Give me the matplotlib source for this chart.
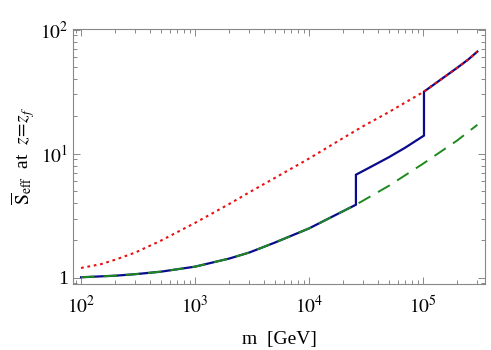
import matplotlib
matplotlib.use("Agg")
import matplotlib.pyplot as plt
from matplotlib.ticker import LogLocator, FixedLocator, NullFormatter

plt.rcParams["font.family"] = ["Liberation Serif", "DejaVu Serif"]
plt.rcParams["mathtext.fontset"] = "stix"

# dashed green curve
m_green = [100, 200, 300, 500, 1000, 2000, 3000, 5000, 1e4, 2e4, 2.58e4, 5e4, 1e5, 2e5, 3e5]
s_green = [1.01, 1.04, 1.07, 1.12, 1.23, 1.43, 1.6, 1.92, 2.5, 3.45, 3.88, 5.5, 8.3, 12.8, 17.1]

# dotted red curve
m_red = [100, 150, 200, 300, 500, 1000, 2000, 3000, 5000, 1e4, 2e4, 3e4, 5e4,
         1e5, 1.5e5, 2e5, 2.5e5, 3e5]
s_red = [1.2, 1.29, 1.4, 1.6, 1.99, 2.77, 3.94, 4.89, 6.37, 9.14, 13.4, 16.7, 21.6,
         31.3, 40.8, 49.3, 57.5, 66.5]

# solid blue curve (with the two jumps)
m_blue = [100, 200, 300, 500, 1000, 2000, 3000, 5000, 1e4, 2e4, 2.58e4,
          2.58e4, 3.5e4, 5e4, 7e4, 1.02e5, 1.02e5, 1.5e5, 2e5, 2.5e5, 3e5]
s_blue = [1.01, 1.04, 1.07, 1.12, 1.23, 1.43, 1.6, 1.92, 2.5, 3.45, 3.88,
          6.77, 7.85, 9.35, 11.2, 14.0, 31.6, 40.8, 49.3, 57.5, 66.5]

x_ticks = [1e2, 1e3, 1e4, 1e5]
x_labels = ["$10^2$", "$10^3$", "$10^4$", "$10^5$"]
y_ticks = [1, 10, 100]
y_labels = ["1", "$10^1$", "$10^2$"]

fig = plt.figure(figsize=(4.91, 3.5), dpi=100)
ax = fig.add_axes([0.1487, 0.189, 0.8391, 0.728])

ax.plot(m_blue, s_blue, color="#0a0a8c", lw=1.6, solid_joinstyle="miter")
ax.plot(m_green, s_green, color="#1e8a1e", lw=1.4, dashes=(7, 4.5))
ax.plot(m_red, s_red, color="#e81010", lw=1.5, dashes=(1.3, 1.8))

ax.set_xscale("log")
ax.set_yscale("log")
ax.set_xlim(85, 3.5e5)
ax.set_ylim(0.894, 101)

ax.xaxis.set_major_locator(FixedLocator(x_ticks))
ax.set_xticklabels(x_labels)
ax.yaxis.set_major_locator(FixedLocator(y_ticks))
ax.set_yticklabels(y_labels)
ax.xaxis.set_minor_locator(LogLocator(base=10, subs=range(2, 10)))
ax.yaxis.set_minor_locator(LogLocator(base=10, subs=range(2, 10)))
ax.xaxis.set_minor_formatter(NullFormatter())
ax.yaxis.set_minor_formatter(NullFormatter())

for side in ax.spines.values():
    side.set_color("#888888")
    side.set_linewidth(0.8)
ax.tick_params(which="both", direction="in", top=True, right=True, color="#888888",
               labelsize=14, width=0.7)
ax.tick_params(which="major", length=5)
ax.tick_params(which="minor", length=2.8)
ax.tick_params(axis="x", pad=8)

ax.set_xlabel("m  [GeV]", fontsize=14, labelpad=10)
ax.set_ylabel(r"$\overline{\mathrm{S}}_{\mathrm{eff}}$  at  $z\!=\!z_f$", fontsize=14, labelpad=2)

fig.savefig("out.png", dpi=100)
